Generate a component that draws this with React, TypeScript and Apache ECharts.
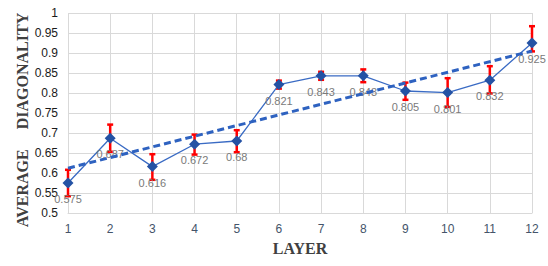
import React, { useEffect, useRef } from "react";
import * as echarts from "echarts";

const layers = ["1", "2", "3", "4", "5", "6", "7", "8", "9", "10", "11", "12"];
const averageDiagonality = [0.575, 0.687, 0.616, 0.672, 0.68, 0.821, 0.843, 0.843, 0.805, 0.801, 0.832, 0.925];
const errorPlus = [0.033, 0.034, 0.031, 0.024, 0.027, 0.01, 0.01, 0.016, 0.021, 0.036, 0.035, 0.042];
const errorMinus = [0.033, 0.034, 0.033, 0.026, 0.028, 0.01, 0.01, 0.016, 0.022, 0.036, 0.033, 0.021];
const trendEnds = [0.612, 0.905];
const yTitle = "AVERAGE     DIAGONALITY";
const xTitle = "LAYER";

export default function App() {
  const ref = useRef<HTMLDivElement>(null);
  useEffect(() => {
    document.body.style.margin = "0";
    const chart = echarts.init(ref.current!, null, { renderer: "svg" });
    const sansFont = "'Liberation Sans', 'Noto Sans', sans-serif";
    const serifFont = "'Liberation Serif', 'DejaVu Serif', serif";
    chart.setOption({
      animation: false,
      backgroundColor: "#ffffff",
      grid: { left: 68, right: 16, top: 13, bottom: 53 },
      graphic: [
        {
          type: "text",
          x: 22,
          y: 120,
          rotation: Math.PI / 2,
          style: {
            text: yTitle,
            font: `bold 16px ${serifFont}`,
            fill: "#404040",
            align: "center",
            verticalAlign: "middle",
          },
        },
      ],
      xAxis: {
        type: "category",
        data: layers,
        boundaryGap: false,
        name: xTitle,
        nameLocation: "middle",
        nameGap: 27,
        nameTextStyle: { fontFamily: serifFont, fontWeight: "bold", fontSize: 16, color: "#404040" },
        axisLine: { show: true, lineStyle: { color: "#d9d9d9" } },
        axisTick: { show: false },
        axisLabel: { color: "#44546a", fontSize: 12, fontFamily: sansFont, margin: 10 },
        splitLine: { show: true, lineStyle: { color: "#d9d9d9", width: 1 } },
      },
      yAxis: {
        type: "value",
        min: 0.5,
        max: 1,
        interval: 0.05,
        axisLine: { show: false },
        axisTick: { show: false },
        axisLabel: { color: "#1a1a1a", fontSize: 12, fontFamily: sansFont, margin: 10 },
        splitLine: { show: true, lineStyle: { color: "#d9d9d9", width: 1 } },
      },
      series: [
        {
          type: "custom",
          z: 1,
          data: averageDiagonality.map((v, i) => [i, v, errorPlus[i], errorMinus[i]]),
          renderItem: (params: any, api: any) => {
            const i = api.value(0);
            const v = api.value(1);
            const top = api.coord([i, v + api.value(2)]);
            const bot = api.coord([i, v - api.value(3)]);
            const hw = 3;
            const style = { stroke: "#ff0000", lineWidth: 2.5 };
            return {
              type: "group",
              children: [
                { type: "line", shape: { x1: top[0], y1: top[1], x2: bot[0], y2: bot[1] }, style },
                { type: "line", shape: { x1: top[0] - hw, y1: top[1], x2: top[0] + hw, y2: top[1] }, style },
                { type: "line", shape: { x1: bot[0] - hw, y1: bot[1], x2: bot[0] + hw, y2: bot[1] }, style },
              ],
            };
          },
        },
        {
          type: "line",
          z: 2,
          data: averageDiagonality,
          symbol: "diamond",
          symbolSize: 11,
          lineStyle: { color: "#3a6bc4", width: 1.3 },
          itemStyle: { color: "#2452a4" },
          label: {
            show: true,
            position: "bottom",
            distance: 5,
            color: "#7a7a7a",
            fontSize: 11,
            fontFamily: sansFont,
          },
        },
        {
          type: "line",
          z: 3,
          data: [
            [layers[0], trendEnds[0]],
            [layers[layers.length - 1], trendEnds[1]],
          ],
          symbol: "none",
          lineStyle: { color: "#2e62c0", width: 3, type: [7, 4] },
          silent: true,
        },
      ],
    });
    return () => chart.dispose();
  }, []);
  return <div ref={ref} style={{ width: 548, height: 266 }} />;
}
